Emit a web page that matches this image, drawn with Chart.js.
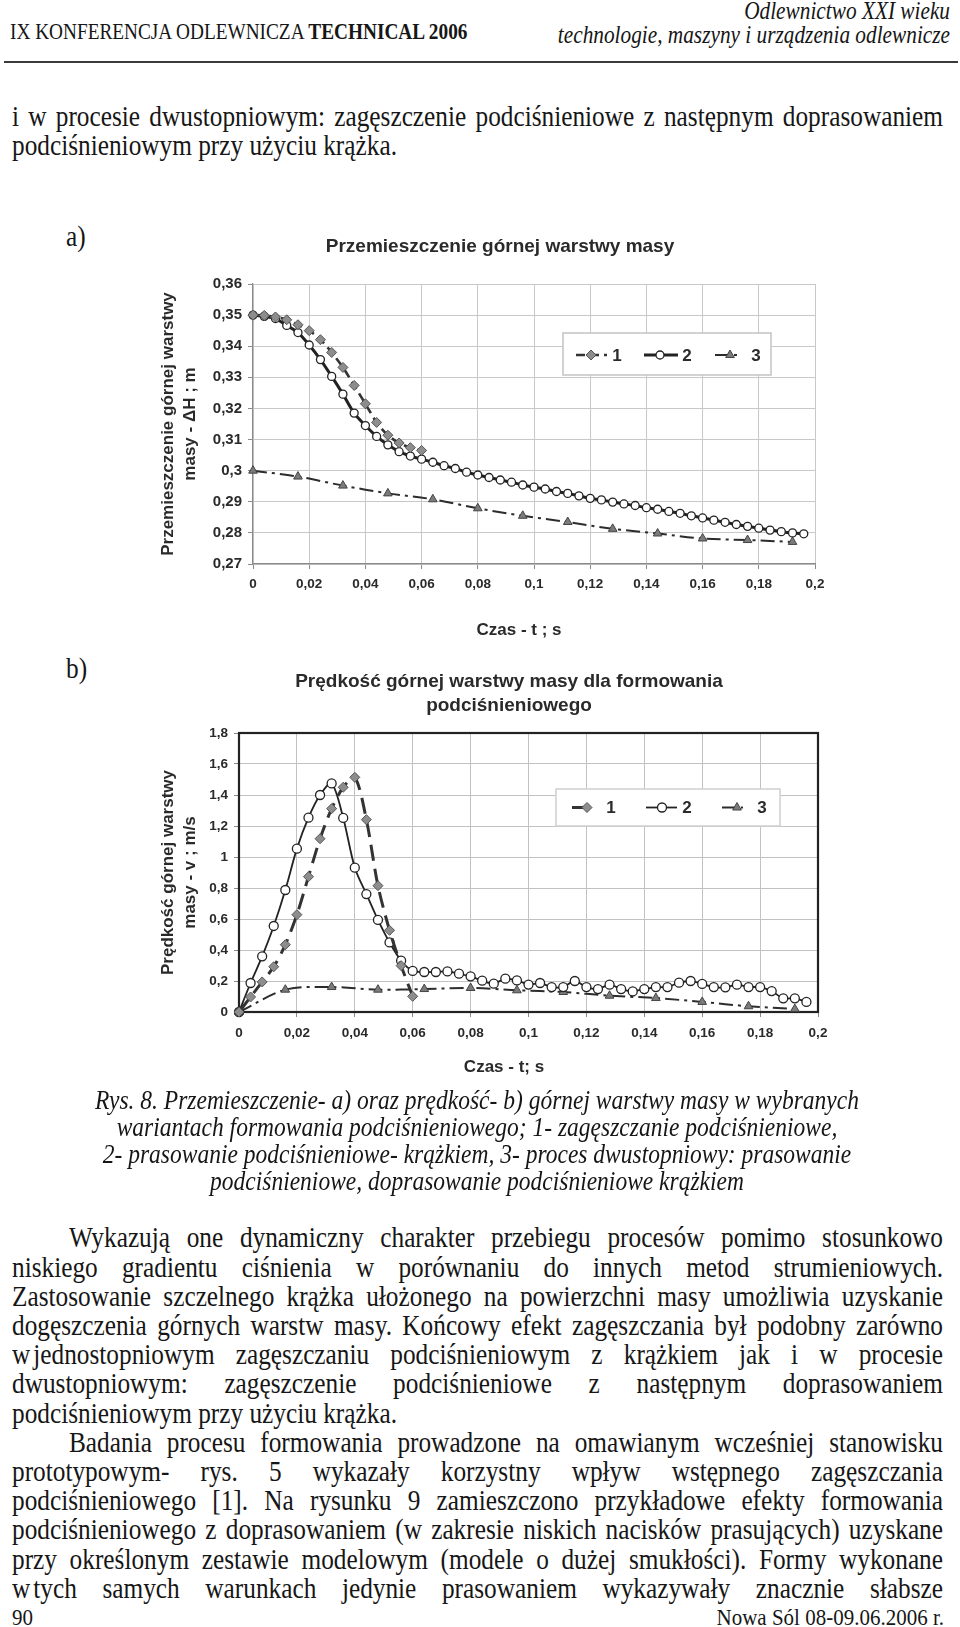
<!DOCTYPE html>
<html lang="pl">
<head>
<meta charset="utf-8">
<title>Rys. 8</title>
<script src="https://cdn.jsdelivr.net/npm/chart.js@4.4.1/dist/chart.umd.min.js"></script>
<style>
  html, body { margin: 0; padding: 0; background: #fff; }
  body { position: relative; width: 960px; height: 1627px; overflow: hidden; }
  .t { position: absolute; font-family: "Liberation Serif", "Times New Roman", serif; color: #161616;
       white-space: nowrap; transform: scaleY(1.15); transform-origin: 50% 50%; }
  .i { font-style: italic; }
  .body { font-size: 25.3px; line-height: 29.2px; }
  .j { left: 12px; width: 931px; white-space: normal; text-align: justify; text-align-last: justify; }
  .ind { left: 69px; width: 874px; }
  .l { left: 12px; }
  .cap { left: 0; width: 954px; text-align: center; font-size: 23.5px; line-height: 27px; }
  .foot { font-size: 21px; line-height: 24px; transform: scaleY(1.1); }
  canvas { position: absolute; }
</style>
</head>
<body>

<div class="t" style="left:10px;top:20px;font-size:19.3px;line-height:24px">IX KONFERENCJA ODLEWNICZA <b>TECHNICAL 2006</b></div>
<div class="t i" style="right:10px;top:2.5px;font-size:21.3px;line-height:21.4px;text-align:right">Odlewnictwo XXI wieku<br>technologie, maszyny i urządzenia odlewnicze</div>
<div style="position:absolute;left:4px;top:61px;width:954px;height:2px;background:#3a3a3a"></div>

<div class="t body j" style="top:102.4px">i w procesie dwustopniowym: zagęszczenie podciśnieniowe z następnym doprasowaniem</div>
<div class="t body l" style="top:131.4px">podciśnieniowym przy użyciu krążka.</div>

<div class="t body" style="left:66px;top:222px">a)</div>
<div class="t body" style="left:66px;top:654px">b)</div>

<canvas id="chartA" width="700" height="440" style="left:140px;top:215px"></canvas>
<canvas id="chartB" width="700" height="450" style="left:140px;top:640px"></canvas>

<div class="t i cap" style="top:1086.5px">Rys. 8. Przemieszczenie- a) oraz prędkość- b) górnej warstwy masy w wybranych</div>
<div class="t i cap" style="top:1113.5px">wariantach formowania podciśnieniowego; 1- zagęszczanie podciśnieniowe,</div>
<div class="t i cap" style="top:1140.5px">2- prasowanie podciśnieniowe- krążkiem, 3- proces dwustopniowy: prasowanie</div>
<div class="t i cap" style="top:1167.5px">podciśnieniowe, doprasowanie podciśnieniowe krążkiem</div>

<div class="t body j ind" style="top:1223.4px">Wykazują one dynamiczny charakter przebiegu procesów pomimo stosunkowo</div>
<div class="t body j" style="top:1252.6px">niskiego gradientu ciśnienia w porównaniu do innych metod strumieniowych.</div>
<div class="t body j" style="top:1281.8px">Zastosowanie szczelnego krążka ułożonego na powierzchni masy umożliwia uzyskanie</div>
<div class="t body j" style="top:1311px">dogęszczenia górnych warstw masy. Końcowy efekt zagęszczania był podobny zarówno</div>
<div class="t body j" style="top:1340.2px">w<span style="margin-left:3px"></span>jednostopniowym zagęszczaniu podciśnieniowym z krążkiem jak i w procesie</div>
<div class="t body j" style="top:1369.4px">dwustopniowym: zagęszczenie podciśnieniowe z następnym doprasowaniem</div>
<div class="t body l" style="top:1398.6px">podciśnieniowym przy użyciu krążka.</div>
<div class="t body j ind" style="top:1427.8px">Badania procesu formowania prowadzone na omawianym wcześniej stanowisku</div>
<div class="t body j" style="top:1457px">prototypowym- rys. 5 wykazały korzystny wpływ wstępnego zagęszczania</div>
<div class="t body j" style="top:1486.2px">podciśnieniowego [1]. Na rysunku 9 zamieszczono przykładowe efekty formowania</div>
<div class="t body j" style="top:1515.4px">podciśnieniowego z doprasowaniem (w zakresie niskich nacisków prasujących) uzyskane</div>
<div class="t body j" style="top:1544.6px">przy określonym zestawie modelowym (modele o dużej smukłości). Formy wykonane</div>
<div class="t body j" style="top:1573.8px">w<span style="margin-left:3px"></span>tych samych warunkach jedynie prasowaniem wykazywały znacznie słabsze</div>
<div class="t foot" style="left:12px;top:1605px">90</div>
<div class="t foot" style="right:16px;top:1605px">Nowa Sól 08-09.06.2006 r.</div>

<script>
// a) przemieszczenie [m] vs czas [s]
const timeA1 = [0, 0.004, 0.008, 0.012, 0.016, 0.02, 0.024, 0.028, 0.032, 0.036, 0.04, 0.044, 0.048, 0.052, 0.056, 0.06];
const dispA1 = [0.35, 0.3499, 0.3494, 0.3485, 0.3469, 0.345, 0.3421, 0.338, 0.3332, 0.3274, 0.3215, 0.3155, 0.3114, 0.3089, 0.3074, 0.3065];

const timeA2 = [0, 0.004, 0.008, 0.012, 0.016, 0.02, 0.024, 0.028, 0.032, 0.036, 0.04, 0.044, 0.048, 0.052, 0.056,
  0.06, 0.064, 0.068, 0.072, 0.076, 0.08, 0.084, 0.088, 0.092, 0.096, 0.1, 0.104, 0.108, 0.112, 0.116, 0.12, 0.124,
  0.128, 0.132, 0.136, 0.14, 0.144, 0.148, 0.152, 0.156, 0.16, 0.164, 0.168, 0.172, 0.176, 0.18, 0.184, 0.188, 0.192, 0.196];
const dispA2 = [0.35, 0.3496, 0.3489, 0.3467, 0.3444, 0.3404, 0.3357, 0.3303, 0.3246, 0.3185, 0.3145, 0.311, 0.3083, 0.3061, 0.3047,
  0.3037, 0.3027, 0.3016, 0.3007, 0.2995, 0.2986, 0.2978, 0.297, 0.2963, 0.2954, 0.2947, 0.2941, 0.2933, 0.2927, 0.2919, 0.2911, 0.2906,
  0.2899, 0.2893, 0.2888, 0.2881, 0.2876, 0.2869, 0.2863, 0.2855, 0.2848, 0.2841, 0.2834, 0.2827, 0.2821, 0.2815, 0.2809, 0.2804, 0.28, 0.2797];

const timeA3 = [0, 0.016, 0.032, 0.048, 0.064, 0.08, 0.096, 0.112, 0.128, 0.144, 0.16, 0.176, 0.192];
const dispA3 = [0.3, 0.2981, 0.2952, 0.2927, 0.2908, 0.2879, 0.2855, 0.2835, 0.2813, 0.2798, 0.2782, 0.2777, 0.2771];

// b) predkosc [m/s] vs czas [s]
const timeB1 = [0, 0.004, 0.008, 0.012, 0.016, 0.02, 0.024, 0.028, 0.032, 0.036, 0.04, 0.044, 0.048, 0.052, 0.056, 0.06];
const velB1 = [0, 0.097, 0.194, 0.292, 0.434, 0.628, 0.873, 1.118, 1.312, 1.45, 1.514, 1.241, 0.815, 0.527, 0.299, 0.101];

const timeB2 = [0, 0.004, 0.008, 0.012, 0.016, 0.02, 0.024, 0.028, 0.032, 0.036, 0.04, 0.044, 0.048, 0.052, 0.056,
  0.06, 0.064, 0.068, 0.072, 0.076, 0.08, 0.084, 0.088, 0.092, 0.096, 0.1, 0.104, 0.108, 0.112, 0.116, 0.12, 0.124,
  0.128, 0.132, 0.136, 0.14, 0.144, 0.148, 0.152, 0.156, 0.16, 0.164, 0.168, 0.172, 0.176, 0.18, 0.184, 0.188, 0.192, 0.196];
const velB2 = [0, 0.187, 0.359, 0.555, 0.787, 1.054, 1.254, 1.4, 1.475, 1.252, 0.931, 0.761, 0.594, 0.449, 0.331,
  0.265, 0.258, 0.258, 0.262, 0.247, 0.23, 0.202, 0.183, 0.215, 0.204, 0.177, 0.187, 0.161, 0.161, 0.2, 0.161, 0.148,
  0.176, 0.148, 0.133, 0.148, 0.161, 0.161, 0.189, 0.2, 0.181, 0.161, 0.159, 0.176, 0.161, 0.161, 0.135, 0.088, 0.088, 0.065];

const timeB3 = [0, 0.016, 0.032, 0.048, 0.064, 0.08, 0.096, 0.112, 0.128, 0.144, 0.16, 0.176, 0.192];
const velB3 = [0, 0.144, 0.161, 0.144, 0.148, 0.155, 0.14, 0.129, 0.105, 0.09, 0.065, 0.037, 0.019];

const seriesNames = ['1', '2', '3'];

const FONT = '"Liberation Sans", Arial, sans-serif';
const INK = '#2a2a2a';

const tickFmt = v => String(Math.round(v * 100) / 100).replace('.', ',');
const pts = (ts, vs) => ts.map((t, i) => ({ x: t, y: vs[i] }));

function marker(ctx, style, x, y, r) {
    ctx.beginPath();
    if (style === 'circle') {
        ctx.arc(x, y, r, 0, Math.PI * 2);
    } else if (style === 'rectRot') {
        ctx.moveTo(x, y - r); ctx.lineTo(x + r, y); ctx.lineTo(x, y + r); ctx.lineTo(x - r, y);
        ctx.closePath();
    } else {
        for (let k = 0; k < 3; k++) {
            const a = k * 2 * Math.PI / 3;
            const px = x + Math.sin(a) * r, py = y - Math.cos(a) * r;
            k ? ctx.lineTo(px, py) : ctx.moveTo(px, py);
        }
        ctx.closePath();
    }
    ctx.fill();
    ctx.stroke();
}

// texts placed freely on the canvas (titles centred on the whole figure, not on the plot)
const headingPlugin = {
    id: 'heading',
    afterDraw(chart, args, opts) {
        const ctx = chart.ctx;
        ctx.save();
        ctx.fillStyle = INK;
        ctx.textAlign = 'center';
        ctx.textBaseline = 'middle';
        (opts.items || []).forEach(it => {
            ctx.font = 'bold ' + it.size + 'px ' + FONT;
            ctx.fillText(it.text, it.x, it.y);
        });
        ctx.restore();
    }
};

const framePlugin = {
    id: 'frame',
    beforeDatasetsDraw(chart, args, opts) {
        if (!opts.width) return;
        const a = chart.chartArea;
        const ctx = chart.ctx;
        ctx.save();
        ctx.strokeStyle = opts.color;
        ctx.lineWidth = opts.width;
        ctx.strokeRect(a.left, a.top, a.right - a.left, a.bottom - a.top);
        ctx.restore();
    }
};

const insideLegendPlugin = {
    id: 'insideLegend',
    afterDatasetsDraw(chart, args, opts) {
        const ctx = chart.ctx;
        const [bx, by, bw, bh] = opts.box;
        ctx.save();
        ctx.fillStyle = '#fff';
        ctx.strokeStyle = opts.borderColor;
        ctx.lineWidth = 1.5;
        ctx.fillRect(bx, by, bw, bh);
        ctx.strokeRect(bx, by, bw, bh);
        chart.data.datasets.forEach((ds, i) => {
            const it = opts.items[i];
            ctx.strokeStyle = ds.borderColor;
            ctx.lineWidth = ds.borderWidth;
            ctx.setLineDash(ds.borderDash || []);
            ctx.beginPath();
            ctx.moveTo(it.x0, opts.y);
            ctx.lineTo(it.x1, opts.y);
            ctx.stroke();
            ctx.setLineDash([]);
            ctx.fillStyle = ds.pointBackgroundColor;
            ctx.strokeStyle = ds.pointBorderColor;
            ctx.lineWidth = ds.pointBorderWidth;
            marker(ctx, ds.pointStyle, it.mx, opts.y, ds.pointRadius);
            ctx.fillStyle = INK;
            ctx.font = 'bold 17px ' + FONT;
            ctx.textAlign = 'center';
            ctx.textBaseline = 'middle';
            ctx.fillText(ds.label, it.tx, opts.y + 1);
        });
        ctx.restore();
    }
};

function axisX(step, labelPad, height, gridColor) {
    return {
        type: 'linear', min: 0, max: 0.2,
        ticks: { stepSize: step, callback: tickFmt, color: INK, padding: labelPad,
                 font: { family: FONT, size: 13.5, weight: 'bold' }, maxRotation: 0, autoSkip: false },
        grid: { color: gridColor, lineWidth: 1, tickLength: 5, tickColor: '#8a8a8a' },
        border: { color: '#8a8a8a', width: 1.2 },
        afterFit: s => { s.height = height; }
    };
}

function axisY(min, max, step, width, labelPad, fontSize, titleLines, gridColor) {
    return {
        type: 'linear', min: min, max: max,
        ticks: { stepSize: step, callback: tickFmt, color: INK, padding: labelPad,
                 font: { family: FONT, size: fontSize, weight: 'bold' } },
        grid: { color: gridColor, lineWidth: 1, tickLength: 5, tickColor: '#8a8a8a' },
        border: { color: '#8a8a8a', width: 1.2 },
        title: { display: true, text: titleLines, color: INK,
                 font: { family: FONT, size: 17, weight: 'bold', lineHeight: '22px' },
                 padding: { top: 17, bottom: 0 } },
        afterFit: s => { s.width = width; }
    };
}

function makeSets(cfg) {
    return [
        { label: seriesNames[0], data: pts(cfg.t1, cfg.v1),
          borderColor: '#333', borderWidth: cfg.w1, borderDash: cfg.dash1,
          pointStyle: 'rectRot', pointRadius: 5, pointBackgroundColor: '#8d8d8d',
          pointBorderColor: '#555', pointBorderWidth: 1, tension: cfg.tension, clip: false },
        { label: seriesNames[1], data: pts(cfg.t2, cfg.v2),
          borderColor: '#222', borderWidth: cfg.w2, borderDash: [],
          pointStyle: 'circle', pointRadius: cfg.r2, pointBackgroundColor: '#fff',
          pointBorderColor: '#222', pointBorderWidth: 1.3, tension: cfg.tension, clip: false },
        { label: seriesNames[2], data: pts(cfg.t3, cfg.v3),
          borderColor: '#2c2c2c', borderWidth: 2, borderDash: [14, 5, 3, 5],
          pointStyle: 'triangle', pointRadius: 5, pointBackgroundColor: '#7b7b7b',
          pointBorderColor: '#444', pointBorderWidth: 1, tension: cfg.tension, clip: false }
    ];
}

Chart.register(headingPlugin, framePlugin, insideLegendPlugin);

new Chart(document.getElementById('chartA').getContext('2d'), {
    type: 'line',
    data: { datasets: makeSets({ t1: timeA1, v1: dispA1, t2: timeA2, v2: dispA2, t3: timeA3, v3: dispA3,
                                 w1: 2.6, dash1: [9, 5], w2: 3, r2: 4, tension: 0.3 }) },
    options: {
        responsive: false, animation: false, devicePixelRatio: 1,
        layout: { padding: { left: 0, right: 25, top: 69, bottom: 51 } },
        plugins: {
            legend: { display: false },
            tooltip: { enabled: false },
            heading: { items: [
                { text: 'Przemieszczenie górnej warstwy masy', x: 360, y: 32, size: 19 },
                { text: 'Czas - t ; s', x: 379, y: 415, size: 17 }
            ] },
            frame: { width: 0 },
            insideLegend: { box: [423, 118, 208, 42], y: 140, borderColor: '#c4c4c4', items: [
                { x0: 436, x1: 467, mx: 451, tx: 477 },
                { x0: 504, x1: 538, mx: 520, tx: 547 },
                { x0: 575, x1: 600, mx: 590, tx: 616 }
            ] }
        },
        scales: {
            x: axisX(0.02, 7, 40, '#c8c8c8'),
            y: axisY(0.27, 0.36, 0.01, 113, 6, 15, ['Przemieszczenie górnej warstwy', 'masy - ΔH ; m'], '#c8c8c8')
        }
    }
});

new Chart(document.getElementById('chartB').getContext('2d'), {
    type: 'line',
    data: { datasets: makeSets({ t1: timeB1, v1: velB1, t2: timeB2, v2: velB2, t3: timeB3, v3: velB3,
                                 w1: 3, dash1: [16, 8], w2: 1.8, r2: 4.5, tension: 0.3 }) },
    options: {
        responsive: false, animation: false, devicePixelRatio: 1,
        layout: { padding: { left: 0, right: 22, top: 93, bottom: 38 } },
        plugins: {
            legend: { display: false },
            tooltip: { enabled: false },
            heading: { items: [
                { text: 'Prędkość górnej warstwy masy dla formowania', x: 369, y: 42, size: 19 },
                { text: 'podciśnieniowego', x: 369, y: 66, size: 19 },
                { text: 'Czas - t; s', x: 364, y: 427, size: 17 }
            ] },
            frame: { width: 2.2, color: '#222' },
            insideLegend: { box: [416, 149, 224, 37], y: 167.5, borderColor: '#cfcfcf', items: [
                { x0: 432, x1: 452, mx: 447, tx: 471 },
                { x0: 506, x1: 537, mx: 522, tx: 547 },
                { x0: 582, x1: 603, mx: 597, tx: 622 }
            ] }
        },
        scales: {
            x: axisX(0.02, 8, 40, '#c2c2c2'),
            y: axisY(0, 1.8, 0.2, 99, 6, 13.5, ['Prędkość górnej warstwy', 'masy - v ; m/s'], '#c2c2c2')
        }
    }
});
</script>
</body>
</html>
